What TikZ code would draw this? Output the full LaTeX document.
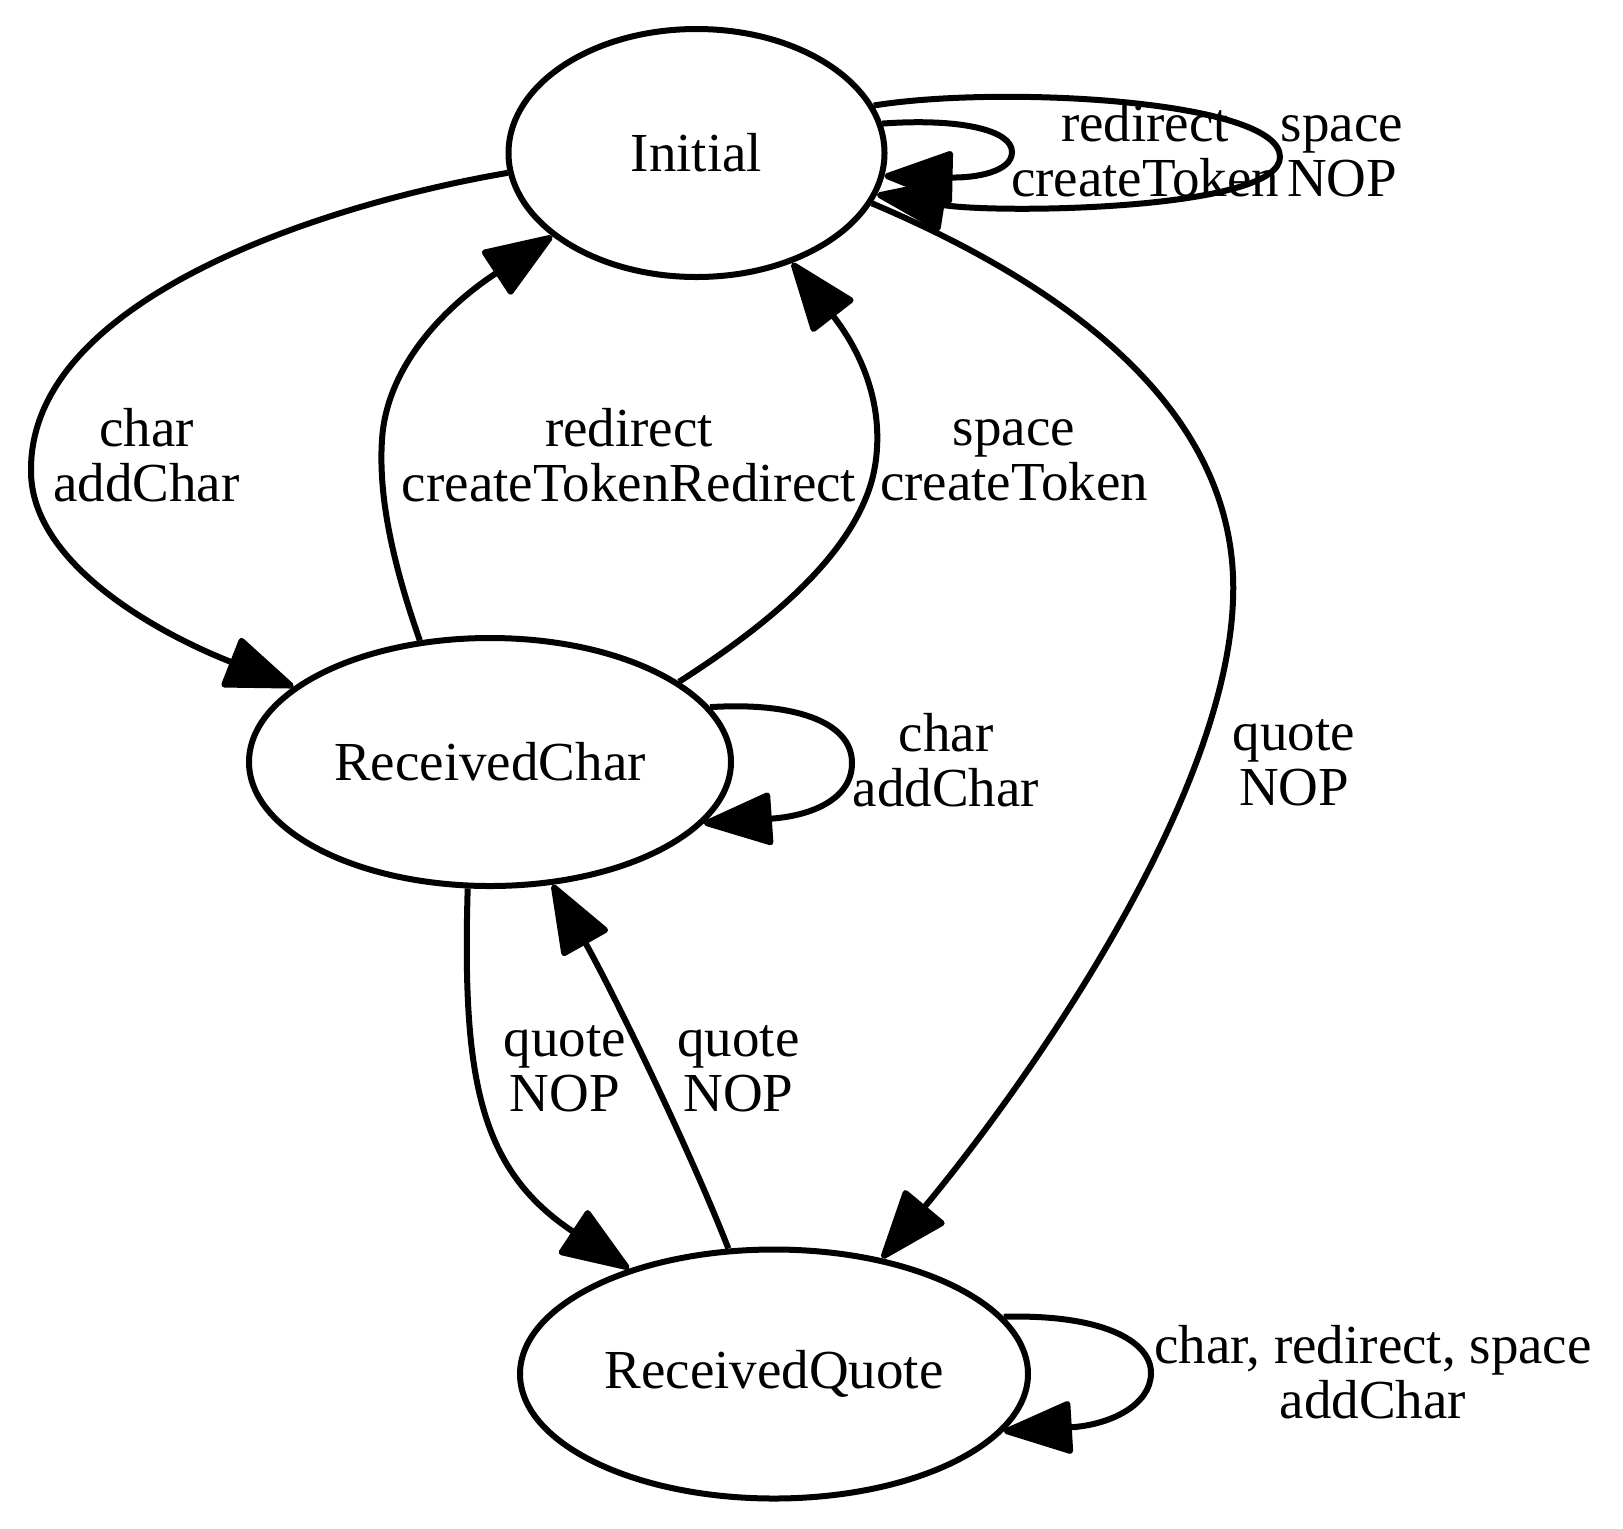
\documentclass[tikz,border=0pt]{standalone}
\usepackage{fontspec}
\setmainfont{Liberation Serif}
\usetikzlibrary{shapes.geometric,arrows.meta}
\newcommand\lblfont{\fontsize{27.5pt}{27.5pt}\selectfont}
\begin{document}
\begin{tikzpicture}[x=0.5pt,y=-0.5pt,
  state/.style={ellipse,draw,line width=3pt,inner sep=0pt,font=\lblfont},
  lab/.style={align=center,inner sep=0pt,font=\lblfont},
  edge/.style={line width=3pt,-{Triangle[length=37pt,width=27pt,round]}}]
\fill[white] (0,0) rectangle (1623,1528);
\useasboundingbox (0,0) rectangle (1623,1528);

\node[state,minimum width=188pt,minimum height=124pt] (I) at (696.5,153) {Initial};
\node[state,minimum width=241pt,minimum height=124pt] (RC) at (490,762) {ReceivedChar};
\node[state,minimum width=254pt,minimum height=124.5pt] (RQ) at (774,1374) {ReceivedQuote};

% Initial -> ReceivedChar
\draw[edge] (I.186.3) .. controls (320,205) and (30,300) .. (31,470)
  .. controls (30,560) and (150,630) .. (RC.159.2);
\node[lab] (l1) at (146.5,455) {char\\addChar};

% ReceivedChar -> Initial (redirect)
\draw[edge] (RC.120) .. controls (395,570) and (378,500) .. (382,440)
  .. controls (386,370) and (440,310) .. (I.210.9);
\node[lab] (l2) at (629,455) {redirect\\createTokenRedirect};

% ReceivedChar -> Initial (space)
\draw[edge] (RC.23.6) .. controls (760,630) and (850,560) .. (872,480)
  .. controls (885,430) and (875,370) .. (I.311.3);
\node[lab] (l3) at (1014,460) {space\\createToken};

% Initial -> ReceivedQuote
\draw[edge] (I.-16) .. controls (1100,300) and (1240,430) .. (1233,600)
  .. controls (1226,800) and (1030,1080) .. (RQ.47.1);
\node[lab] (l4) at (1294,763) {quote\\NOP};

% Initial self loops
\draw[edge] (I.9.6) .. controls (960,118) and (1012,130) .. (1012,152)
  .. controls (1012,172) and (975,178) .. (I.-7.9);
\node[lab] (l5) at (1145,150.5) {redirect\\createToken};
\draw[edge] (I.15.6) .. controls (1000,85) and (1280,100) .. (1280,157)
  .. controls (1280,210) and (1000,214) .. (I.-13.5);
\node[lab] (l6) at (1342,156.5) {space\\NOP};

% ReceivedChar self loop
\draw[edge] (RC.14.6) .. controls (790,702) and (852,720) .. (852,763)
  .. controls (852,800) and (810,816) .. (RC.-16.3);
\node[lab] (l7) at (946,760) {char\\addChar};

% ReceivedChar -> ReceivedQuote
\draw[edge] (RC.260.5) .. controls (462,1080) and (480,1170) .. (RQ.144.2);
\node[lab] (l8) at (565,1069) {quote\\NOP};

% ReceivedQuote -> ReceivedChar
\draw[edge] (RQ.110.5) .. controls (690,1150) and (612,990) .. (RC.297.5);
\node[lab] (l9) at (738.5,1069) {quote\\NOP};

% ReceivedQuote self loop
\draw[edge] (RQ.14) .. controls (1100,1314) and (1151,1340) .. (1151,1373)
  .. controls (1151,1405) and (1110,1425) .. (RQ.-14.4);
\node[lab] (l10) at (1373,1372) {char, redirect, space\\addChar};
\end{tikzpicture}
\end{document}
